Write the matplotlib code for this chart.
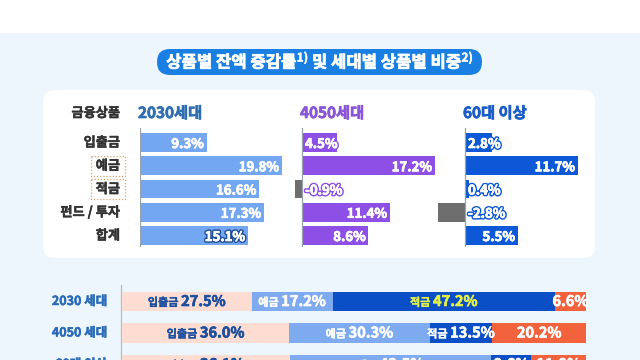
import matplotlib
matplotlib.use('Agg')
import matplotlib.pyplot as plt
from matplotlib.patches import FancyBboxPatch, Rectangle
import matplotlib.patheffects as pe

plt.rcParams['font.family'] = ['Noto Sans CJK KR', 'DejaVu Sans']

# ---------------- data ----------------
title_parts = ['상품별 잔액 증감률', '1)', ' 및 세대별 상품별 비중', '2)']
header_label = '금융상품'
products = ['입출금', '예금', '적금', '펀드 / 투자', '합계']
generations = ['2030세대', '4050세대', '60대 이상']
growth_2030 = [9.3, 19.8, 16.6, 17.3, 15.1]
growth_4050 = [4.5, 17.2, -0.9, 11.4, 8.6]
growth_60 = [2.8, 11.7, 0.4, -2.8, 5.5]

share_rows = ['2030 세대', '4050 세대', '60대 이상']
share_products = ['입출금', '예금', '적금', '']
share_2030 = [27.5, 17.2, 47.2, 6.6]
share_4050 = [36.0, 30.3, 13.5, 20.2]
share_60 = [36.1, 43.5, 8.6, 11.8]

# ---------------- figure ----------------
W, H = 640, 360
fig = plt.figure(figsize=(6.4, 3.6), dpi=100)
fig.patch.set_facecolor('white')
bg = fig.add_axes([0, 0, 1, 1], zorder=0)
bg.set_xlim(0, W)
bg.set_ylim(H, 0)
bg.axis('off')
ov = fig.add_axes([0, 0, 1, 1], zorder=10)
ov.set_xlim(0, W)
ov.set_ylim(H, 0)
ov.axis('off')
ov.patch.set_alpha(0)


def bold(color, lw=0.35):
    return [pe.withStroke(linewidth=lw, foreground=color)]


bg.add_patch(Rectangle((0, 33), W, H - 33, color='#edf5fd', zorder=0))
bg.add_patch(FancyBboxPatch((43, 90), 552, 168, boxstyle='round,pad=0,rounding_size=12',
                            fc='white', ec='none', zorder=1))
bg.add_patch(FancyBboxPatch((157, 49), 325, 26, boxstyle='round,pad=0,rounding_size=13',
                            fc='#1a7fe3', ec='none', zorder=2))

fig.canvas.draw()
renderer = fig.canvas.get_renderer()


def make_pieces(pieces):
    texts = []
    for s, size, color, dy, slw in pieces:
        t = ov.text(0, dy, s, fontsize=size, color=color, fontweight='bold',
                    ha='left', va='baseline', zorder=6)
        t.set_path_effects([pe.withStroke(linewidth=slw, foreground=color)])
        texts.append(t)
    widths = [t.get_window_extent(renderer=renderer).width for t in texts]
    return texts, widths


def place_pieces(texts, widths, pieces, xc, ybase):
    x = xc - sum(widths) / 2
    for t, w, p in zip(texts, widths, pieces):
        t.set_position((x, ybase + p[3]))
        x += w


def draw_pieces(xc, ybase, pieces):
    texts, widths = make_pieces(pieces)
    place_pieces(texts, widths, pieces, xc, ybase)
    return texts, widths


# title
draw_pieces(319.5, 67.5, [(title_parts[0], 12, 'white', 0, 0.5),
                          (title_parts[1], 8.5, 'white', -6, 0.3),
                          (title_parts[2], 12, 'white', 0, 0.5),
                          (title_parts[3], 8.5, 'white', -6, 0.3)])

# ---------------- top growth panels ----------------
row_y0, row_pitch = 142.5, 23.25
top_y, bot_y = 128, 247
ylim_top = ((bot_y - row_y0) / row_pitch, (top_y - row_y0) / row_pitch)

t = ov.text(120, 113, header_label, fontsize=9.5, fontweight='bold', color='#333333',
            ha='right', va='center')
t.set_path_effects(bold('#333333'))
for i, p in enumerate(products):
    t = ov.text(120, row_y0 + i * row_pitch, p, fontsize=9.5, fontweight='bold',
                color='#333333', ha='right', va='center', zorder=5)
    t.set_path_effects(bold('#333333'))
# dotted boxes around 예금 / 적금
for i in (1, 2):
    yc = row_y0 + i * row_pitch
    ov.add_patch(Rectangle((91, yc - 10), 34, 20, fill=False, ec='#d9a26e',
                           ls=(0, (1, 1.5)), lw=0.9, zorder=4))

panels = [
    dict(vals=growth_2030, name=generations[0], zero=140, scale=7.17, left=140, right=290,
         bar='#74a7f2', head='#2f6fb2', stroke='#74a7f2', total_stroke='#1f4f9a'),
    dict(vals=growth_4050, name=generations[1], zero=302, scale=7.73, left=288, right=450,
         bar='#8e4fe6', head='#8a55d6', stroke='#8e4fe6', total_stroke='#8e4fe6'),
    dict(vals=growth_60, name=generations[2], zero=465, scale=9.66, left=430, right=590,
         bar='#0c58d6', head='#1b5cc8', stroke='#0c58d6', total_stroke='#0c58d6'),
]

for pnl in panels:
    ax = fig.add_axes([pnl['left'] / W, 1 - bot_y / H, (pnl['right'] - pnl['left']) / W,
                       (bot_y - top_y) / H], zorder=5)
    ax.set_xlim((pnl['left'] - pnl['zero']) / pnl['scale'],
                (pnl['right'] - pnl['zero']) / pnl['scale'])
    ax.set_ylim(*ylim_top)
    ax.axis('off')
    ax.patch.set_alpha(0)
    vals = pnl['vals']
    ypos = list(range(len(vals)))
    colors = [pnl['bar'] if v >= 0 else '#6e6e6e' for v in vals]
    ax.barh(ypos, vals, height=0.8, color=colors, zorder=2)
    ax.axvline(0, color='#9aa3ad', lw=0.9, zorder=3)
    for i, v in enumerate(vals):
        label = f'{v:.1f}%'
        stroke = pnl['total_stroke'] if i == len(vals) - 1 else pnl['stroke']
        if v * pnl['scale'] > 45:
            t = ax.annotate(label, xy=(v, i), xytext=(-3, 0), textcoords='offset pixels',
                            ha='right', va='center_baseline', fontsize=9.5,
                            fontweight='bold', color='white', zorder=4)
        else:
            t = ax.annotate(label, xy=(0, i), xytext=(3, 0), textcoords='offset pixels',
                            ha='left', va='center_baseline', fontsize=9.5,
                            fontweight='bold', color='white', zorder=4)
        t.set_path_effects([pe.withStroke(linewidth=2.6, foreground=stroke),
                            pe.withStroke(linewidth=0.5, foreground='white')])
    t = ov.text(pnl['zero'] - 2, 113, pnl['name'], fontsize=11, fontweight='bold',
                color=pnl['head'], ha='left', va='center')
    t.set_path_effects(bold(pnl['head'], 0.5))

# ---------------- bottom share chart ----------------
b_left, b_right = 122, 586
b_row0, b_pitch = 301.5, 31.5
b_top = 285
axb = fig.add_axes([b_left / W, 0, (b_right - b_left) / W, 1 - b_top / H], zorder=5)
axb.set_xlim(0, 1)
axb.set_ylim((H - b_row0) / b_pitch, (b_top - b_row0) / b_pitch)
axb.axis('off')
axb.patch.set_alpha(0)
bg.plot([121, 121], [b_top, H], color='#b5bcc4', lw=0.9, zorder=3)

seg_colors = ['#fddcd2', '#7eaaf0', '#0b4fc6', '#f2623d']
rows = [share_2030, share_4050, share_60]
fig.canvas.draw()
for r, vals in enumerate(rows):
    tot = sum(vals)
    fr = [v / tot for v in vals]
    left = 0.0
    for k, f in enumerate(fr):
        axb.barh(r, f, left=left, height=0.63, color=seg_colors[k], zorder=2)
        x0_d, yc_d = axb.transData.transform((left, r))
        x1_d, _ = axb.transData.transform((left + f, r))
        xc, yc = ov.transData.inverted().transform(((x0_d + x1_d) / 2, yc_d))
        seg_w = abs(x1_d - x0_d)
        pct = f'{vals[k]:.1f}%'
        if k == 0:
            c = '#1d4f9f'
        elif k == 2 and r == 0:
            c = '#e4f04a'
        else:
            c = 'white'
        pieces = [(pct, 10.5, c, 0, 0.45)]
        if share_products[k]:
            full = [(share_products[k] + ' ', 8, c, 0, 0.25)] + pieces
            texts, widths = make_pieces(full)
            if sum(widths) <= seg_w + 10:
                place_pieces(texts, widths, full, xc, yc + 4.5)
                left += f
                continue
            for tt in texts:
                tt.remove()
        texts, widths = make_pieces(pieces)
        place_pieces(texts, widths, pieces, xc, yc + 4.5)
        left += f
    t = ov.text(107, b_row0 + r * b_pitch, share_rows[r], fontsize=9, fontweight='bold',
                color='#2a6cb8', ha='right', va='center', zorder=5)
    t.set_path_effects(bold('#2a6cb8', 0.35))

fig.savefig('out.png', dpi=100, facecolor='white')
